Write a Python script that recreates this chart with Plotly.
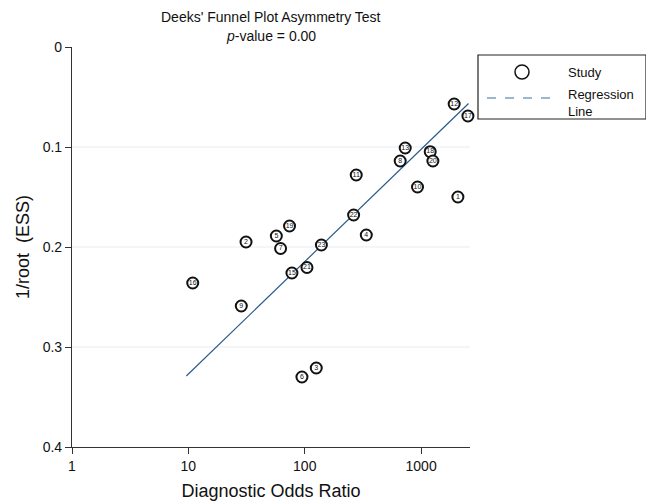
import plotly.graph_objects as go

# ---- data ----
study_ids = ["1", "2", "3", "4", "5", "6", "7", "8", "9", "10", "11", "12",
             "13", "17", "14", "15", "16", "18", "19", "20", "21", "22", "23"]
dor = [2070, 31.3, 125.6, 338, 57, 94.6, 62, 661, 28.5, 931, 277, 1923,
       730, 2524, 2679, 77.6, 10.9, 1197, 74, 1262, 104.5, 263, 139]
inv_root_ess = [0.150, 0.195, 0.321, 0.188, 0.189, 0.330, 0.2015, 0.114, 0.259,
                0.140, 0.128, 0.057, 0.101, 0.069, 0.070, 0.226, 0.236, 0.1047,
                0.179, 0.114, 0.2205, 0.168, 0.198]
reg_x = [9.6, 2555]
reg_y = [0.329, 0.0565]
y_ticks = [0, 0.1, 0.2, 0.3, 0.4]
y_ticklabels = ["0", "0.1", "0.2", "0.3", "0.4"]
x_ticks = [1, 10, 100, 1000]
x_ticklabels = ["1", "10", "100", "1000"]
grid_levels = [0.1, 0.2, 0.3]

FONT = "Liberation Sans, Arial, Helvetica, sans-serif"
INK = "#111"

fig = go.Figure()
fig.add_trace(go.Scatter(
    x=reg_x, y=reg_y, mode="lines",
    line=dict(color="#2a5a8a", width=1.2), showlegend=False, hoverinfo="skip"))
fig.add_trace(go.Scatter(
    x=dor, y=inv_root_ess, mode="markers+text", text=study_ids,
    textposition="middle center", textfont=dict(size=7, color=INK, family=FONT),
    marker=dict(size=11, color="white", line=dict(color=INK, width=2)),
    cliponaxis=False, showlegend=False))

# plot area in reference pixels: x 72..470, y 47..447
def px_x(p):
    return (p - 72) / 398
def px_y(p):
    return 1 - (p - 47) / 400

shapes = []
for g in grid_levels:
    shapes.append(dict(type="line", xref="paper", yref="y", x0=0, x1=1, y0=g, y1=g,
                       line=dict(color="#e6edf3", width=1), layer="below"))

# legend box
shapes.append(dict(type="rect", xref="paper", yref="paper",
                   x0=px_x(478), x1=px_x(646), y0=px_y(119), y1=px_y(55),
                   line=dict(color="#222", width=1.2), fillcolor="white"))
shapes.append(dict(type="circle", xref="paper", yref="paper",
                   xsizemode="pixel", ysizemode="pixel",
                   xanchor=px_x(522), yanchor=px_y(72),
                   x0=-7, x1=7, y0=-7, y1=7,
                   line=dict(color=INK, width=1.5), fillcolor="white"))
shapes.append(dict(type="line", xref="paper", yref="paper",
                   x0=px_x(487), x1=px_x(557), y0=px_y(98), y1=px_y(98),
                   line=dict(color="#7a9fc2", width=1.3, dash="dash")))

annotations = [
    dict(xref="paper", yref="paper", x=px_x(271), y=px_y(17),
         text="Deeks' Funnel Plot Asymmetry Test", showarrow=False,
         xanchor="center", yanchor="middle", font=dict(size=14, family=FONT, color=INK)),
    dict(xref="paper", yref="paper", x=px_x(271), y=px_y(36),
         text="<i>p</i>-value = 0.00", showarrow=False,
         xanchor="center", yanchor="middle", font=dict(size=14, family=FONT, color=INK)),
    dict(xref="paper", yref="paper", x=px_x(566), y=px_y(72), text="Study",
         showarrow=False, xanchor="left", yanchor="middle",
         font=dict(size=13, family=FONT, color=INK)),
    dict(xref="paper", yref="paper", x=px_x(566), y=px_y(103), text="Regression<br>Line",
         showarrow=False, xanchor="left", yanchor="middle", align="left",
         font=dict(size=13, family=FONT, color=INK)),
]

# the page has an 8px body margin, so the figure is 8px smaller than the window
fig.update_layout(
    width=646, height=495,
    margin=dict(l=64, r=184, t=39, b=56, autoexpand=False),
    paper_bgcolor="white", plot_bgcolor="white",
    font=dict(family=FONT, color=INK),
    shapes=shapes, annotations=annotations,
    showlegend=False,
)
fig.update_xaxes(
    type="log", range=[0, 3.42], tickvals=x_ticks, ticktext=x_ticklabels,
    ticks="outside", ticklen=6, tickcolor="#333", showline=True, linecolor="#333",
    linewidth=1.2, showgrid=False, zeroline=False,
    tickfont=dict(size=14, family=FONT, color=INK),
    title=dict(text="Diagnostic Odds Ratio", standoff=11,
               font=dict(size=18, family=FONT, color=INK)))
fig.update_yaxes(
    range=[0.4, 0], tickvals=y_ticks, ticktext=y_ticklabels,
    ticks="outside", ticklen=6, tickcolor="#333", showline=True, linecolor="#333",
    linewidth=1.2, showgrid=False, zeroline=False,
    tickfont=dict(size=14, family=FONT, color=INK),
    title=dict(text="1/root  (ESS)", standoff=8,
               font=dict(size=18, family=FONT, color=INK)))

fig.write_html("out.html")
